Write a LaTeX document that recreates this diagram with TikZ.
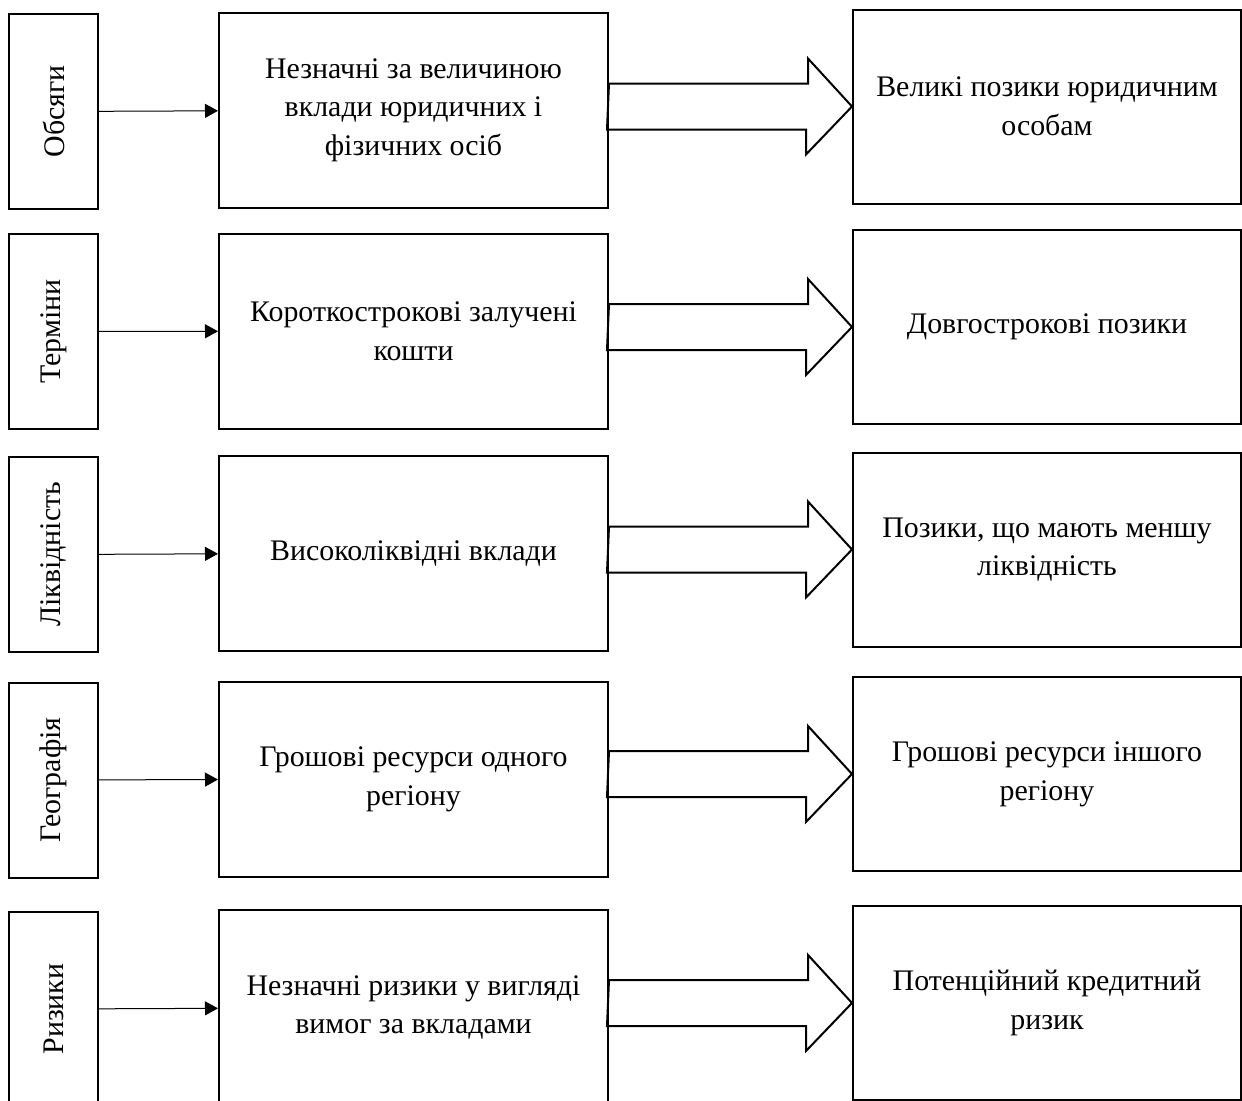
\documentclass[tikz,border=0pt]{standalone}
\usepackage{fontspec}
\setmainfont{Liberation Serif}
\usepackage{tikz}
\usetikzlibrary{arrows.meta,calc,positioning}

\tikzset{
    box/.style={
        draw,
        line width=0.04cm,
        align=center,
        inner sep=0pt,
        font=\fontsize{17}{22}\selectfont
    },
    sidebox/.style={
        box,
        minimum width=1.78cm,
        minimum height=3.9cm
    },
    srcbox/.style={
        box,
        minimum width=7.78cm,
        minimum height=3.9cm
    },
    dstbox/.style={
        box,
        minimum width=7.76cm,
        minimum height=3.88cm
    },
    thinarrow/.style={
        -{Triangle[length=0.26cm,width=0.28cm]},
        line width=0.02cm
    },
    bigarrow/.style={
        line width=0.04cm,
        line join=miter
    }
}

\begin{document}
\begin{tikzpicture}
                \useasboundingbox (0,0) rectangle (24.84,-22.02);

                \node[sidebox] (obsyahy) at (1.07,-2.23) {\rotatebox{90}{Обсяги}};
                \node[sidebox] (terminy) at (1.07,-6.63) {\rotatebox{90}{Терміни}};
                \node[sidebox] (likvid) at (1.07,-11.09) {\rotatebox{90}{Ліквідність}};
                \node[sidebox] (heohraf) at (1.07,-15.60) {\rotatebox{90}{Географія}};
                \node[sidebox] (ryzyky) at (1.07,-20.18) {\rotatebox{90}{Ризики}};

                \node[srcbox] (vklady) at (8.27,-2.20) {Незначні за величиною\\вклади юридичних і\\фізичних осіб};
                \node[srcbox] (koroten) at (8.27,-6.62) {Короткострокові залучені\\кошти};
                \node[srcbox] (vysoko) at (8.27,-11.06) {Високоліквідні вклади};
                \node[srcbox] (odnoho) at (8.27,-15.58) {Грошові ресурси одного\\регіону};
                \node[srcbox] (vymohy) at (8.27,-20.15) {Незначні ризики у вигляді\\вимог за вкладами};

                \node[dstbox] (pozyky) at (20.94,-2.13) {Великі позики юридичним\\особам};
                \node[dstbox] (dovho) at (20.94,-6.54) {Довгострокові позики};
                \node[dstbox] (mensha) at (20.94,-10.99) {Позики, що мають меншу\\ліквідність};
                \node[dstbox] (inshoho) at (20.94,-15.48) {Грошові ресурси іншого\\регіону};
                \node[dstbox] (kredyt) at (20.94,-20.06) {Потенційний кредитний\\ризик};

                \draw[thinarrow] (obsyahy) -- (vklady);
                \draw[thinarrow] (terminy) -- (koroten);
                \draw[thinarrow] (likvid) -- (vysoko);
                \draw[thinarrow] (heohraf) -- (odnoho);
                \draw[thinarrow] (ryzyky) -- (vymohy);

                \draw[bigarrow] (vklady.east |- pozyky.west) ++(0,0.46) -- ++(3.98,0) -- ++(0,0.5)
                    -- (pozyky.west) -- ++(-0.92,-0.96) -- ++(0,0.5) -- ++(-3.98,0) -- cycle;
                \draw[bigarrow] (koroten.east |- dovho.west) ++(0,0.46) -- ++(3.98,0) -- ++(0,0.5)
                    -- (dovho.west) -- ++(-0.92,-0.96) -- ++(0,0.5) -- ++(-3.98,0) -- cycle;
                \draw[bigarrow] (vysoko.east |- mensha.west) ++(0,0.46) -- ++(3.98,0) -- ++(0,0.5)
                    -- (mensha.west) -- ++(-0.92,-0.96) -- ++(0,0.5) -- ++(-3.98,0) -- cycle;
                \draw[bigarrow] (odnoho.east |- inshoho.west) ++(0,0.46) -- ++(3.98,0) -- ++(0,0.5)
                    -- (inshoho.west) -- ++(-0.92,-0.96) -- ++(0,0.5) -- ++(-3.98,0) -- cycle;
                \draw[bigarrow] (vymohy.east |- kredyt.west) ++(0,0.46) -- ++(3.98,0) -- ++(0,0.5)
                    -- (kredyt.west) -- ++(-0.92,-0.96) -- ++(0,0.5) -- ++(-3.98,0) -- cycle;

            \end{tikzpicture}
\end{document}
